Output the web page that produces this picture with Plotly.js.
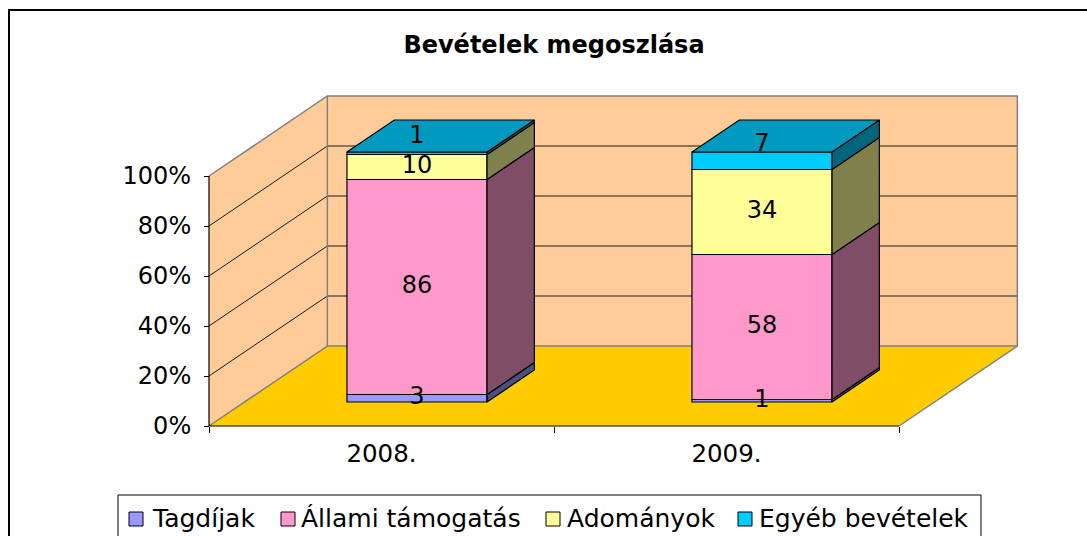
<!DOCTYPE html>
<html>
<head>
<meta charset="utf-8">
<script src="https://cdn.plot.ly/plotly-3.0.1.min.js"></script>
<style>html,body{margin:0;padding:0;background:#fff;}#chart{width:1087px;height:536px;}</style>
</head>
<body>
<div id="chart"></div>
<script>
// ---- data ----
const categories = ['2008.', '2009.'];
const seriesNames = ['Tagdíjak', 'Állami támogatás', 'Adományok', 'Egyéb bevételek'];
const tagdijak = [3, 1];
const allami = [86, 58];
const adomanyok = [10, 34];
const egyeb = [1, 7];
const yTickVals = [0, 20, 40, 60, 80, 100];
const yTickText = ['0%', '20%', '40%', '60%', '80%', '100%'];
const chartTitle = 'Bevételek megoszlása';

const series = [tagdijak, allami, adomanyok, egyeb];
const frontColors = ['#9999FF', '#FF99CC', '#FFFF99', '#00CCFF'];
const sideColors  = ['#4D4D80', '#804D66', '#80804D', '#006680'];
const topColors   = ['#7373BF', '#BF7399', '#BFBF73', '#0099BF'];

const FONT = 'DejaVu Sans, Verdana, sans-serif';

// ---- geometry (pixel scales) ----
const FW = 1087, FH = 536;
const XS = 345, YS = 2.5;           // px per category, px per percent
const L = 199, R = 60, T = 87, B = 100;
const W = FW - L - R, H = FH - T - B;
const xmin = -10 / XS, xmax = xmin + W / XS;
const ymin = -10 / YS, ymax = ymin + H / YS;
const DX = 0.343, DY = 32;          // full depth vector (data units)
const D0 = 0.3, D1 = 0.7;           // bar depth span
const BW = 0.406;                   // bar width (category units)
const NC = categories.length;

function P(x, d, v) { return [x + d * DX, v + d * DY]; }
function path(pts, close) {
  return pts.map((p, i) => (i ? 'L' : 'M') + p[0] + ',' + p[1]).join(' ') + (close ? ' Z' : '');
}
function ppx(px) { return (px - L) / W; }
function ppy(py) { return 1 - (py - T) / H; }

// percentages
const totals = categories.map((_, i) => series.reduce((s, arr) => s + arr[i], 0));
const pct = series.map(arr => arr.map((v, i) => v / totals[i] * 100));
const cum = series.map((arr, k) => arr.map((_, i) => {
  let s = 0; for (let j = 0; j < k; j++) s += pct[j][i]; return s;
}));

const traces = [];
// front faces
series.forEach((arr, k) => {
  traces.push({
    type: 'bar', name: seriesNames[k],
    x: categories.map((_, i) => i + 0.5 + D0 * DX),
    y: pct[k],
    base: cum[k].map(c => c + D0 * DY),
    width: BW,
    marker: {color: frontColors[k], line: {color: '#000', width: 1.2}},
    showlegend: false, hoverinfo: 'skip'
  });
});
// side faces
series.forEach((arr, k) => {
  const xs = [], ys = [];
  categories.forEach((_, i) => {
    const xr = i + 0.5 + BW / 2;
    const v0 = cum[k][i], v1 = cum[k][i] + pct[k][i];
    const pts = [P(xr, D0, v0), P(xr, D1, v0), P(xr, D1, v1), P(xr, D0, v1), P(xr, D0, v0)];
    pts.forEach(p => { xs.push(p[0]); ys.push(p[1]); });
    xs.push(null); ys.push(null);
  });
  traces.push({
    type: 'scatter', mode: 'lines', x: xs, y: ys, fill: 'toself',
    fillcolor: sideColors[k], line: {color: '#000', width: 1.2},
    showlegend: false, hoverinfo: 'skip'
  });
});
// top faces (colour of the topmost series)
{
  const top = series.length - 1;
  const xs = [], ys = [];
  categories.forEach((_, i) => {
    const xl = i + 0.5 - BW / 2, xr = i + 0.5 + BW / 2;
    const v = cum[top][i] + pct[top][i];
    const pts = [P(xl, D0, v), P(xr, D0, v), P(xr, D1, v), P(xl, D1, v), P(xl, D0, v)];
    pts.forEach(p => { xs.push(p[0]); ys.push(p[1]); });
    xs.push(null); ys.push(null);
  });
  traces.push({
    type: 'scatter', mode: 'lines', x: xs, y: ys, fill: 'toself',
    fillcolor: topColors[top], line: {color: '#000', width: 1.2},
    showlegend: false, hoverinfo: 'skip'
  });
}
// data labels
{
  const lx = [], ly = [], lt = [];
  series.forEach((arr, k) => {
    categories.forEach((_, i) => {
      const d = (k === series.length - 1) ? 0.5 : D0;
      const p = P(i + 0.5, D0, cum[k][i] + pct[k][i] / 2);
      lx.push(p[0]); ly.push(p[1] + (d - D0) * DY); lt.push(String(arr[i]));
    });
  });
  traces.push({
    type: 'scatter', mode: 'text', x: lx, y: ly, text: lt,
    textposition: 'middle center', cliponaxis: false,
    textfont: {family: FONT, size: 24, color: '#000'},
    showlegend: false, hoverinfo: 'skip'
  });
}

// ---- walls, floor, grid ----
const shapes = [];
const wallFill = '#FFCC99', floorFill = '#FFCC00', edge = '#808080';
shapes.push({type: 'path', xref: 'x', yref: 'y', layer: 'below',
  path: path([P(0, 0, 0), P(0, 1, 0), P(0, 1, 100), P(0, 0, 100)], true),
  fillcolor: wallFill, line: {width: 0}});
shapes.push({type: 'path', xref: 'x', yref: 'y', layer: 'below',
  path: path([P(0, 1, 0), P(NC, 1, 0), P(NC, 1, 100), P(0, 1, 100)], true),
  fillcolor: wallFill, line: {width: 0}});
shapes.push({type: 'path', xref: 'x', yref: 'y', layer: 'below',
  path: path([P(0, 0, 0), P(NC, 0, 0), P(NC, 1, 0), P(0, 1, 0)], true),
  fillcolor: floorFill, line: {width: 0}});
yTickVals.filter(v => v > 0 && v < 100).forEach(v => {
  shapes.push({type: 'path', xref: 'x', yref: 'y', layer: 'below',
    path: path([P(0, 0, v), P(0, 1, v), P(NC, 1, v)], false),
    line: {color: '#1a1a1a', width: 1}});
});
// wall/floor edges
shapes.push({type: 'path', xref: 'x', yref: 'y', layer: 'below',
  path: path([P(0, 0, 100), P(0, 1, 100), P(NC, 1, 100), P(NC, 1, 0), P(NC, 0, 0)], false),
  line: {color: edge, width: 1.5}});
shapes.push({type: 'path', xref: 'x', yref: 'y', layer: 'below',
  path: path([P(0, 0, 0), P(0, 1, 0), P(0, 1, 100)], false),
  line: {color: edge, width: 1.5}});
shapes.push({type: 'path', xref: 'x', yref: 'y', layer: 'below',
  path: path([P(0, 1, 0), P(NC, 1, 0)], false),
  line: {color: edge, width: 1.5}});
// axis lines
shapes.push({type: 'line', xref: 'x', yref: 'y', x0: 0, y0: 0, x1: 0, y1: 100,
  line: {color: '#000', width: 1.2}});
shapes.push({type: 'line', xref: 'x', yref: 'y', x0: 0, y0: 0, x1: NC, y1: 0,
  line: {color: '#000', width: 1.2}});

// outer chart border
shapes.push({type: 'rect', xref: 'paper', yref: 'paper',
  x0: ppx(9), y0: ppy(560), x1: ppx(1110), y1: ppy(10),
  line: {color: '#000', width: 2}, fillcolor: 'rgba(0,0,0,0)'});

// ---- legend (custom row) ----
const legMarkX = [129, 281, 546, 738];
const legTextX = [150, 299, 565, 757];
const annotations = [];
shapes.push({type: 'rect', xref: 'paper', yref: 'paper',
  x0: ppx(118), y0: ppy(560), x1: ppx(981), y1: ppy(495),
  line: {color: '#000', width: 1}, fillcolor: '#fff'});
seriesNames.forEach((n, k) => {
  shapes.push({type: 'rect', xref: 'paper', yref: 'paper',
    x0: ppx(legMarkX[k]), x1: ppx(legMarkX[k] + 14), y0: ppy(526), y1: ppy(512),
    line: {color: '#000', width: 1}, fillcolor: frontColors[k]});
  annotations.push({xref: 'paper', yref: 'paper', x: ppx(legTextX[k]), y: ppy(518),
    xanchor: 'left', yanchor: 'middle', showarrow: false, text: n,
    font: {family: FONT, size: 25, color: '#000'}});
});

const layout = {
  width: FW, height: FH,
  margin: {l: L, r: R, t: T, b: B, pad: 0},
  paper_bgcolor: '#fff', plot_bgcolor: 'rgba(0,0,0,0)',
  barmode: 'overlay',
  showlegend: false,
  title: {text: chartTitle, xref: 'container', yref: 'container',
    x: 554 / FW, xanchor: 'center', y: 1 - 45 / FH, yanchor: 'middle',
    font: {family: FONT, size: 24, weight: 'bold', color: '#000'}},
  xaxis: {range: [xmin, xmax], anchor: 'free', position: (0 - ymin) / (ymax - ymin),
    tickvals: categories.map((_, i) => i + 0.5), ticktext: categories, ticks: '',
    minor: {tickvals: categories.map((_, i) => i).concat([NC]), ticks: 'outside', ticklen: 6, tickcolor: '#000', tickwidth: 1},
    showgrid: false, zeroline: false, showline: false, ticklabelstandoff: 10,
    tickfont: {family: FONT, size: 24.5, color: '#000'}, fixedrange: true},
  yaxis: {range: [ymin, ymax], anchor: 'free', position: (0 - xmin) / (xmax - xmin),
    tickvals: yTickVals, ticktext: yTickText, ticks: 'outside', ticklen: 5, tickcolor: '#000',
    showgrid: false, zeroline: false, showline: false, ticklabelstandoff: 8,
    tickfont: {family: FONT, size: 24, color: '#000'}, fixedrange: true},
  shapes: shapes,
  annotations: annotations
};

Plotly.newPlot('chart', traces, layout, {displayModeBar: false, staticPlot: true});
</script>
</body>
</html>
